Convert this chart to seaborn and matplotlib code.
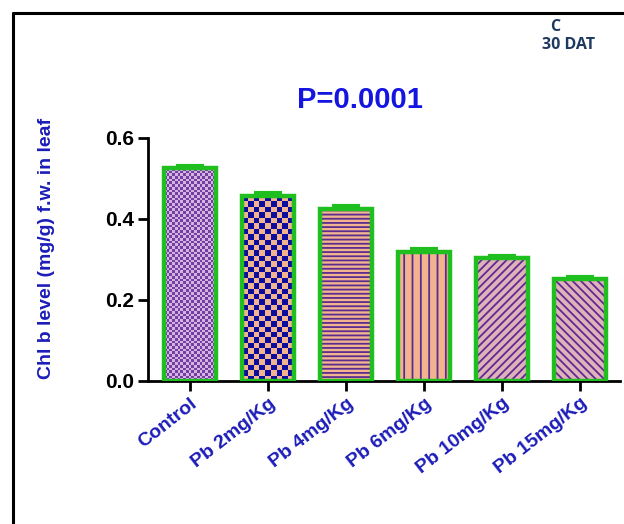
import numpy as np
import pandas as pd
import matplotlib
matplotlib.use("Agg")
import matplotlib.pyplot as plt
from matplotlib.colors import ListedColormap
from matplotlib.patches import Rectangle
from matplotlib.lines import Line2D
import seaborn as sns

# Chlorophyll b content, 30 days after transplanting
treatments = ["Control", "Pb 2mg/Kg", "Pb 4mg/Kg", "Pb 6mg/Kg", "Pb 10mg/Kg", "Pb 15mg/Kg"]
chl_b = [0.525, 0.456, 0.425, 0.318, 0.304, 0.252]
sem = [0.007, 0.007, 0.008, 0.007, 0.005, 0.005]
y_ticks = [0.0, 0.2, 0.4, 0.6]

GREEN = "#1fbf1f"
PURPLE = "#5b2c8f"
PEACH = "#f1b48e"
PINK = "#e2b0bb"
NAVY = "#0c0c9e"
BLUE_TXT = "#1c1cb8"

sns.set_theme(style="white")
plt.rcParams["font.family"] = ["Liberation Sans", "DejaVu Sans"]
plt.rcParams["hatch.linewidth"] = 1.3

df = pd.DataFrame({"treatment": treatments, "chl_b": chl_b})

fig = plt.figure(figsize=(6.24, 5.24), dpi=100)
ax = fig.add_axes([148 / 624, 1 - 381 / 524, (620 - 148) / 624, (381 - 138) / 524])

sns.barplot(data=df, x="treatment", y="chl_b", hue="treatment", palette=[PEACH] * 6,
            legend=False, errorbar=None, width=0.66, ax=ax, zorder=2)

xlim = (-0.54, 5.51)
ylim = (0, 0.6)
ax.set_xlim(*xlim)
ax.set_ylim(*ylim)

# fill styles per bar: (kind, colours, hatch or checker cell size in px)
styles = [
    ("checker", ("#d7b2de", "#7040a4"), 2.7),
    ("checker", (PEACH, NAVY), 5.5),
    ("hatch", PEACH, "----"),
    ("hatch", PEACH, "||"),
    ("hatch", PINK, "////"),
    ("hatch", PINK, "\\\\\\\\"),
]

bars = list(ax.patches)[:6]
px_per_x = 472 / (xlim[1] - xlim[0])
px_per_y = 243 / (ylim[1] - ylim[0])
for bar, (kind, col, spec) in zip(bars, styles):
    x0, w, h = bar.get_x(), bar.get_width(), bar.get_height()
    if kind == "hatch":
        bar.set_facecolor(col)
        bar.set_hatch(spec)
        bar.set_edgecolor(PURPLE)
        bar.set_linewidth(0)
    else:
        bar.set_linewidth(0)
        ncols = max(1, int(round(w * px_per_x / spec)))
        nrows = max(1, int(round(h * px_per_y / spec)))
        grid = np.indices((nrows, ncols)).sum(axis=0) % 2
        im = ax.imshow(grid, cmap=ListedColormap(list(col)), extent=(x0, x0 + w, 0, h),
                       aspect="auto", interpolation="nearest", origin="lower", zorder=2.5)
        im.set_clip_path(bar)
    # green outline on top of the fill
    ax.add_patch(Rectangle((x0, 0), w, h, fill=False, edgecolor=GREEN, linewidth=3.2, zorder=3))

# error bars sit behind the bars so only the upper cap shows
ax.errorbar(range(len(treatments)), chl_b, yerr=sem, fmt="none", ecolor=GREEN,
            elinewidth=3, capsize=10, capthick=3, zorder=1.5)

ax.set_xlim(*xlim)
ax.set_ylim(*ylim)

# axes styling
for side in ("top", "right"):
    ax.spines[side].set_visible(False)
for side in ("left", "bottom"):
    ax.spines[side].set_color("black")
    ax.spines[side].set_linewidth(2)
ax.tick_params(axis="both", direction="out", length=7, width=2, color="black",
               bottom=True, left=True, pad=3)
ax.set_yticks(y_ticks)
ax.set_yticklabels([f"{v:.1f}" for v in y_ticks], fontsize=15, fontweight="bold", color="black")
ax.set_xticks(range(len(treatments)))
ax.set_xticklabels(treatments, rotation=38, ha="right", rotation_mode="anchor",
                   fontsize=14, fontweight="bold", color=BLUE_TXT)
ax.set_xlabel("")
ax.set_ylabel("Chl b level (mg/g) f.w. in leaf", fontsize=14, fontweight="bold", color=BLUE_TXT)
ax.yaxis.set_label_coords(-0.198, 0.545)

fig.text(360 / 624, 1 - 100 / 524, "P=0.0001", ha="center", va="center",
         fontsize=21, fontweight="bold", color="#1515e0")
fig.text(555 / 624, 1 - 27 / 524, "C", ha="center", va="center",
         fontsize=11.5, fontweight="bold", color="#1f3a60", family=["Open Sans", "DejaVu Sans"])
fig.text(569 / 624, 1 - 45 / 524, "30 DAT", ha="center", va="center",
         fontsize=11.5, fontweight="bold", color="#1f3a60", family=["Open Sans", "DejaVu Sans"])

# frame around the panel
fig.add_artist(Line2D([13 / 624, 13 / 624], [1 - 13 / 524, 0], transform=fig.transFigure,
                      color="black", linewidth=2.2))
fig.add_artist(Line2D([13 / 624, 1], [1 - 13 / 524, 1 - 13 / 524], transform=fig.transFigure,
                      color="black", linewidth=2.2))

fig.savefig("out.png", dpi=100, facecolor="white")
